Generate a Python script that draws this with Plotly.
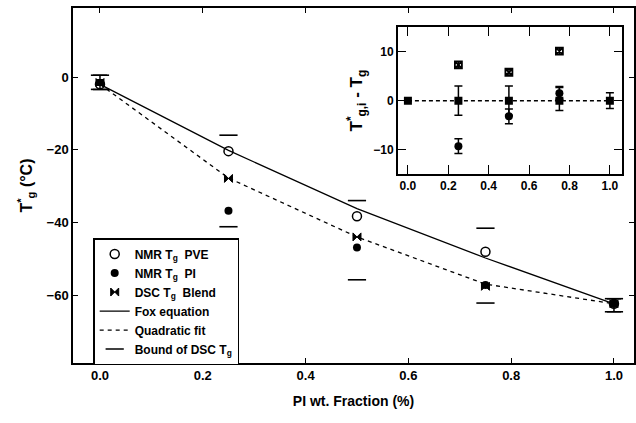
import plotly.graph_objects as go

# ---- data ----
pi_frac = [0.0, 0.25, 0.5, 0.75, 1.0]
nmr_pve = [-2.0, -20.4, -38.3, -48.1, -62.4]
nmr_pi_x = [0.25, 0.5, 0.75, 1.0]
nmr_pi = [-36.8, -46.9, -57.2, -62.4]
dsc_blend = [-1.5, -27.9, -44.0, -57.6, -62.4]
dsc_upper = [0.5, -16.0, -34.0, -41.6, -61.0]
dsc_lower = [-3.4, -41.2, -55.8, -62.2, -64.6]
fox_eq = [-2.0, -20.2, -36.2, -49.8, -62.4]
quad_fit = [-2.0, -27.8, -44.0, -57.0, -62.4]

# inset: T*_{g,i} - T_g
inset_x = [0.0, 0.25, 0.5, 0.75, 1.0]
inset_zero = [0.0, 0.0, 0.0, 0.0, 0.0]
inset_zero_err = [0.0, 3.0, 3.0, 2.9, 1.6]
inset_zero_errminus = [0.0, 3.0, 3.0, 2.0, 1.6]
inset_pve_x = [0.25, 0.5, 0.75]
inset_pve = [7.3, 5.8, 10.1]
inset_pve_err = [0.6, 0.6, 0.6]
inset_pi_x = [0.25, 0.5, 0.75]
inset_pi = [-9.3, -3.2, 1.5]
inset_pi_err = [1.5, 1.5, 1.2]

FONT = "Liberation Sans"
fig = go.Figure()

# main plot
fig.add_trace(go.Scatter(x=pi_frac, y=fox_eq, mode="lines", name="Fox equation",
                         line=dict(color="black", width=1.3), legendrank=4))
fig.add_trace(go.Scatter(x=pi_frac, y=quad_fit, mode="lines", name="Quadratic fit",
                         line=dict(color="black", width=1.3, dash="4px,4px"), legendrank=5))
fig.add_trace(go.Scatter(x=pi_frac, y=nmr_pve, mode="markers",
                         name="NMR T<sub>g</sub>  PVE",
                         marker=dict(symbol="circle-open", size=9, color="black",
                                     line=dict(width=1.5)), legendrank=1))
fig.add_trace(go.Scatter(x=nmr_pi_x, y=nmr_pi, mode="markers",
                         name="NMR T<sub>g</sub>  PI",
                         marker=dict(symbol="circle", size=8, color="black"), legendrank=2))
fig.add_trace(go.Scatter(x=pi_frac, y=dsc_blend, mode="markers",
                         name="DSC T<sub>g</sub>  Blend",
                         marker=dict(symbol="bowtie", size=8, color="black",
                                     line=dict(width=1, color="black")), legendrank=3))
# end-point DSC bounds drawn as error bars
end_idx = [0, 4]
fig.add_trace(go.Scatter(
    x=[pi_frac[i] for i in end_idx], y=[dsc_blend[i] for i in end_idx], mode="markers",
    marker=dict(symbol="square", size=7, color="black"), showlegend=False,
    error_y=dict(type="data", symmetric=False,
                 array=[dsc_upper[i] - dsc_blend[i] for i in end_idx],
                 arrayminus=[dsc_blend[i] - dsc_lower[i] for i in end_idx],
                 color="black", thickness=1.5, width=7)))
fig.add_trace(go.Scatter(x=pi_frac + pi_frac, y=dsc_upper + dsc_lower, mode="markers",
                         name="Bound of DSC T<sub>g</sub>",
                         marker=dict(symbol="line-ew-open", size=13, color="black",
                                     line=dict(width=1.6, color="black")), legendrank=6))

# inset
fig.add_trace(go.Scatter(x=inset_x, y=inset_zero, mode="lines+markers", xaxis="x2", yaxis="y2",
                         showlegend=False,
                         line=dict(color="black", width=1.5, dash="4px,3px"),
                         marker=dict(symbol="square", size=8, color="black"),
                         error_y=dict(type="data", symmetric=False, array=inset_zero_err,
                                      arrayminus=inset_zero_errminus,
                                      color="black", thickness=1.5, width=4)))
fig.add_trace(go.Scatter(x=inset_pve_x, y=inset_pve, mode="markers", xaxis="x2", yaxis="y2",
                         showlegend=False,
                         marker=dict(symbol="square-x-open", size=7, color="black",
                                     line=dict(width=1.8)),
                         error_y=dict(type="data", array=inset_pve_err,
                                      color="black", thickness=1.2, width=3)))
fig.add_trace(go.Scatter(x=inset_pi_x, y=inset_pi, mode="markers", xaxis="x2", yaxis="y2",
                         showlegend=False,
                         marker=dict(symbol="circle", size=8, color="black"),
                         error_y=dict(type="data", array=inset_pi_err,
                                      color="black", thickness=1.5, width=4)))

axis_common = dict(showline=True, linecolor="black", linewidth=1.5, mirror="ticks",
                   ticks="inside", tickcolor="black", showgrid=False, zeroline=False,
                   automargin=False,
                   tickfont=dict(family=FONT, size=13, color="black", weight="bold"))
inset_tickfont = dict(family=FONT, size=12, color="black", weight="bold")

fig.update_layout(
    width=636, height=423,
    margin=dict(l=73, r=2, t=8, b=60),
    paper_bgcolor="white", plot_bgcolor="white",
    font=dict(family=FONT, color="black"),
    xaxis=dict(**axis_common, range=[-0.0525, 1.039],
               tickvals=[0, 0.2, 0.4, 0.6, 0.8, 1.0], ticktext=["0.0", "0.2", "0.4", "0.6", "0.8", "1.0"],
               ticklen=5,
               title=dict(text="PI wt. Fraction (%)", standoff=14,
                          font=dict(family=FONT, size=14, color="black", weight="bold"))),
    yaxis=dict(**axis_common, range=[-78.7, 19], tickvals=[0, -20, -40, -60], ticklen=5,
               title=dict(text="T<sup>*</sup><sub>g</sub> (°C)", standoff=10,
                          font=dict(family=FONT, size=16, color="black", weight="bold"))),
    xaxis2=dict(**{**axis_common, "tickfont": inset_tickfont},
                domain=[0.579, 0.9786], anchor="y2", range=[-0.05, 1.06],
                tickvals=[0, 0.2, 0.4, 0.6, 0.8, 1.0], ticktext=["0.0", "0.2", "0.4", "0.6", "0.8", "1.0"],
                ticklen=9),
    yaxis2=dict(**{**axis_common, "tickfont": inset_tickfont},
                domain=[0.532, 0.946], anchor="x2", range=[-15, 15],
                tickvals=[10, 0, -10], ticklen=8,
                title=dict(text="T<sup>*</sup><sub>g,i</sub> - T<sub>g</sub>", standoff=6,
                           font=dict(family=FONT, size=17, color="black", weight="bold"))),
    legend=dict(x=0.036, y=0.352, xanchor="left", yanchor="top",
                bordercolor="black", borderwidth=1.5, bgcolor="white",
                font=dict(family=FONT, size=12, color="black", weight="bold"),
                tracegroupgap=0, itemwidth=30),
    showlegend=True,
)

fig.write_html("out.html", config={"displayModeBar": False},
               post_script="document.body.style.margin='0px';")
